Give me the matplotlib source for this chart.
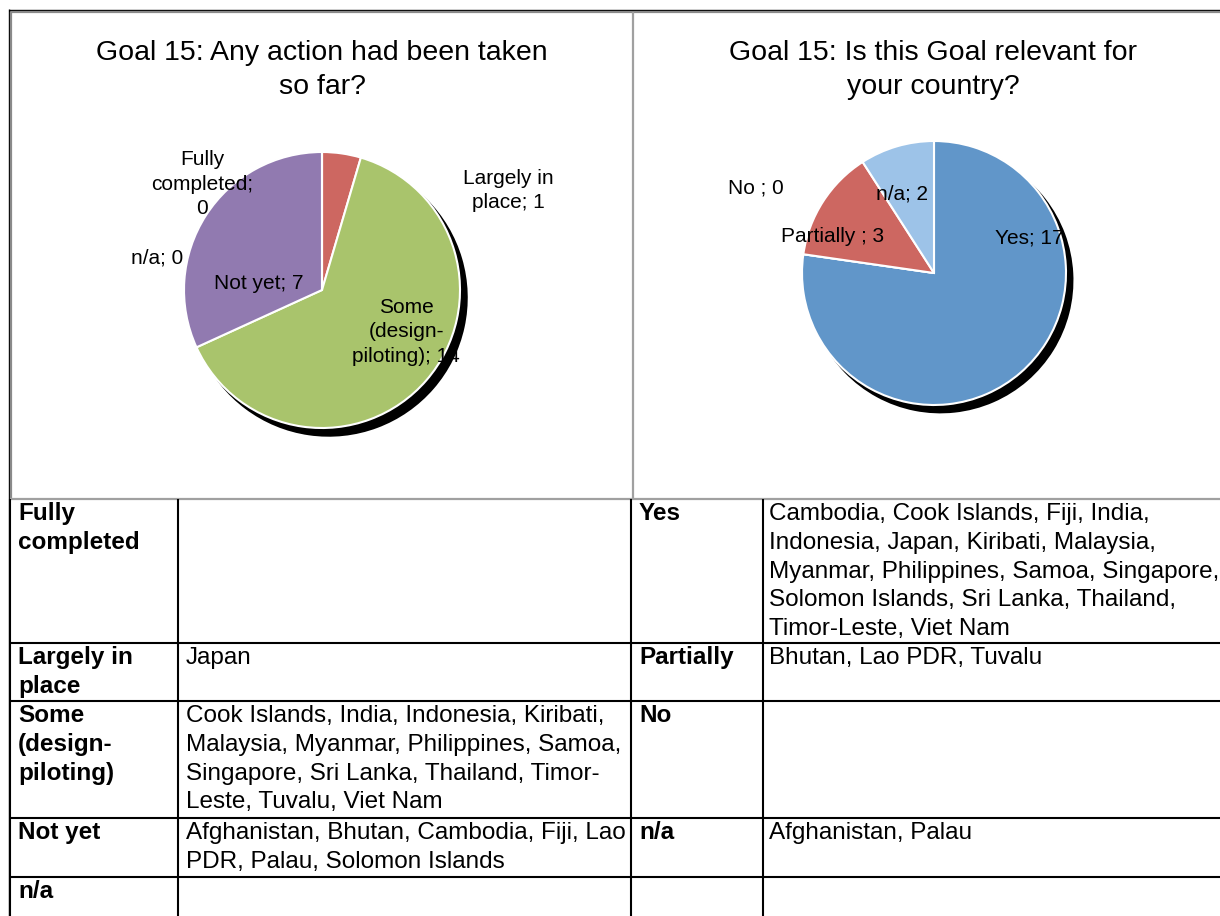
import matplotlib
matplotlib.use("Agg")
import matplotlib.pyplot as plt
from matplotlib.lines import Line2D

plt.rcParams['font.family'] = ['Liberation Sans', 'DejaVu Sans']

# left pie: Any action had been taken so far?
action_names = ["Fully\ncompleted;\n", "Largely in\nplace; ", "Some\n(design-\npiloting); ", "Not yet; ", "n/a; "]
action_counts = [0, 1, 14, 7, 0]
action_colors = ["#8C7AB0", "#CD6761", "#A9C46C", "#917AB0", "#8C7AB0"]

# right pie: Is this Goal relevant for your country?
relevant_names = ["Yes; ", "No ; ", "Partially ; ", "n/a; "]
relevant_counts = [17, 0, 3, 2]
relevant_colors = ["#6196C9", "#CD6761", "#CD6761", "#9DC3E8"]

# tables under the pies
action_rows = ["Fully\ncompleted", "Largely in\nplace", "Some\n(design-\npiloting)", "Not yet", "n/a"]
action_countries = [
    "",
    "Japan",
    "Cook Islands, India, Indonesia, Kiribati,\nMalaysia, Myanmar, Philippines, Samoa,\n"
    "Singapore, Sri Lanka, Thailand, Timor-\nLeste, Tuvalu, Viet Nam",
    "Afghanistan, Bhutan, Cambodia, Fiji, Lao\nPDR, Palau, Solomon Islands",
    "",
]
relevant_rows = ["Yes", "Partially", "No", "n/a", ""]
relevant_countries = [
    "Cambodia, Cook Islands, Fiji, India,\nIndonesia, Japan, Kiribati, Malaysia,\n"
    "Myanmar, Philippines, Samoa, Singapore,\nSolomon Islands, Sri Lanka, Thailand,\n"
    "Timor-Leste, Viet Nam",
    "Bhutan, Lao PDR, Tuvalu",
    "",
    "Afghanistan, Palau",
    "",
]

W, H = 1220, 916
fig = plt.figure(figsize=(W / 100, H / 100), dpi=100)


def fx(x):
    return x / W


def fy(y):
    return 1 - y / H


def hline(y, x0, x1, color="black", lw=1.5):
    fig.add_artist(Line2D([fx(x0), fx(x1)], [fy(y), fy(y)], transform=fig.transFigure,
                          color=color, lw=lw, solid_capstyle="butt"))


def vline(x, y0, y1, color="black", lw=1.5):
    fig.add_artist(Line2D([fx(x), fx(x)], [fy(y0), fy(y1)], transform=fig.transFigure,
                          color=color, lw=lw, solid_capstyle="butt"))


def put(x, y, text, pitch, **kw):
    # one text per line so the line pitch matches the reference
    for i, line in enumerate(text.split("\n")):
        fig.text(fx(x), fy(y + i * pitch), line, va="baseline", **kw)


def pie_axes(cx, cy, r, counts, colors):
    s = 200
    ax = fig.add_axes([fx(cx - s), fy(cy + s), 2 * s / W, 2 * s / H])
    ax.pie(counts, colors=colors, startangle=90, counterclock=False, radius=1,
           wedgeprops=dict(edgecolor="white", linewidth=1.5),
           shadow=dict(ox=0.035, oy=-0.04, shade=1.0, alpha=1.0))
    ax.set_xlim(-s / r, s / r)
    ax.set_ylim(-s / r, s / r)
    ax.axis("off")
    return ax


# chart frames
hline(10, 9, W, color="black", lw=1.0)
hline(12, 10, W, color="#8a8a8a", lw=1.6)
vline(9, 9, 916, color="black", lw=1.0)
vline(11, 12, 499, color="#8a8a8a", lw=1.6)
vline(633, 12, 499, color="#a0a0a0", lw=1.6)
hline(498.5, 10, W, color="#a0a0a0", lw=1.6)

# pies
pie_axes(322, 290, 138, action_counts, action_colors)
pie_axes(934, 273, 132, relevant_counts, relevant_colors)

put(322, 60, "Goal 15: Any action had been taken\nso far?", 34, ha="center", fontsize=20.5)
put(933, 60, "Goal 15: Is this Goal relevant for\nyour country?", 34, ha="center", fontsize=20.5)

action_label_xy = [(202, 165), (508, 184), (406, 313), (259, 289), (157, 263)]
for name, n, (x, y) in zip(action_names, action_counts, action_label_xy):
    put(x, y, f"{name}{n}", 24.5, ha="center", fontsize=15)

relevant_label_xy = [(1029, 243), (756, 193), (833, 242), (902, 199)]
for name, n, (x, y) in zip(relevant_names, relevant_counts, relevant_label_xy):
    put(x, y, f"{name}{n}", 24.5, ha="center", fontsize=15)

# tables
row_tops = [499, 643, 701, 818, 877]
for y in row_tops[1:]:
    hline(y, 9, W)
for x in [10, 178, 631, 763]:
    vline(x, 499, 916)

for top, head, text in zip(row_tops, action_rows, action_countries):
    put(18, top + 21, head, 28.8, fontsize=17.5, fontweight="bold")
    put(186, top + 21, text, 28.8, fontsize=17.5)

for top, head, text in zip(row_tops, relevant_rows, relevant_countries):
    put(639, top + 21, head, 28.8, fontsize=17.5, fontweight="bold")
    put(769, top + 21, text, 28.8, fontsize=17.5)

fig.savefig("out.png", dpi=100)
